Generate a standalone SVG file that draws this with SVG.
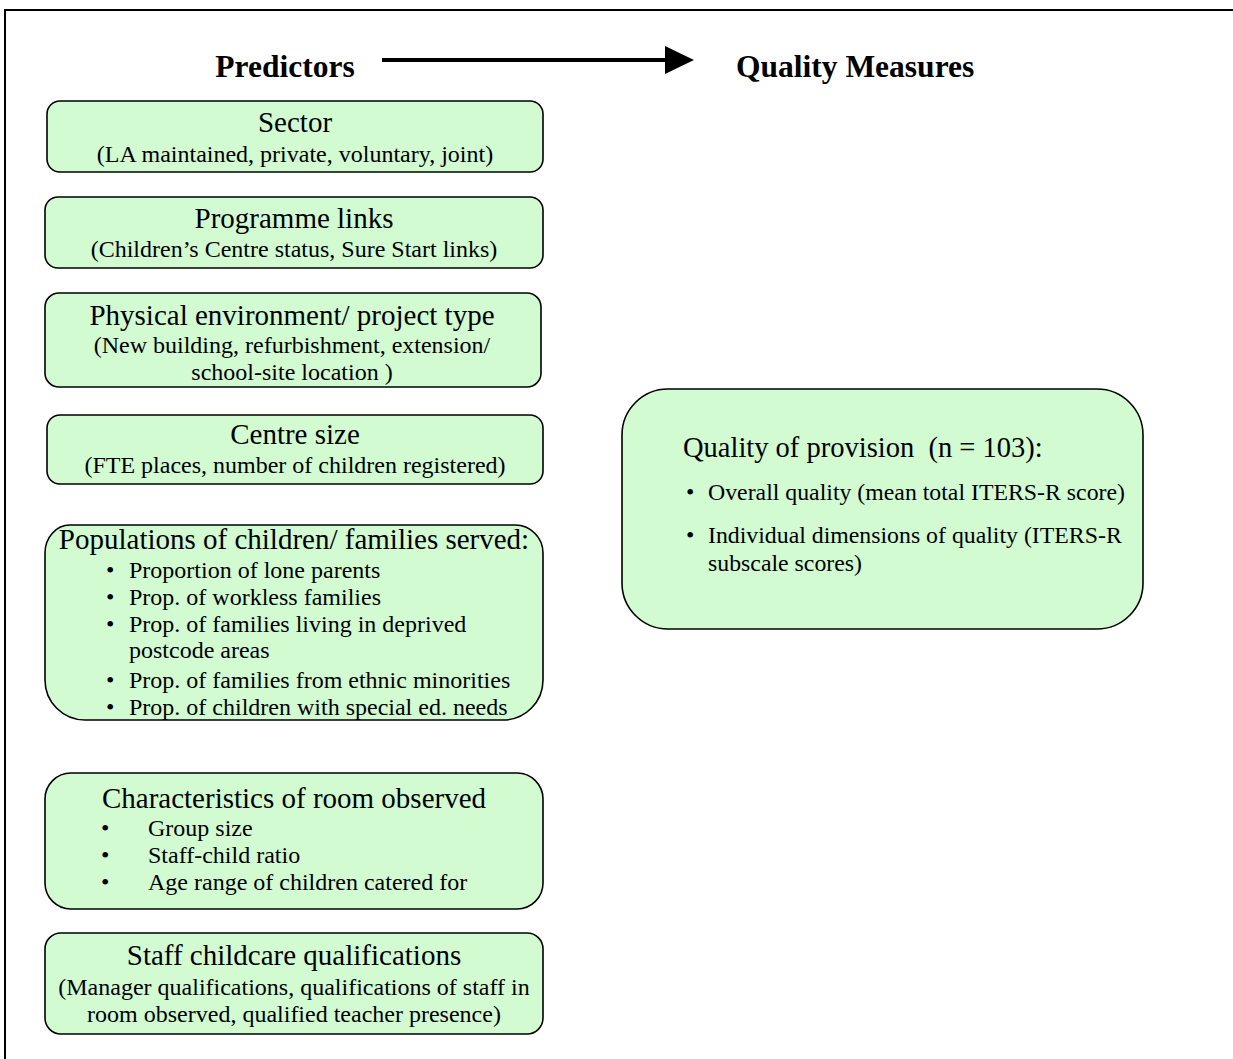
<svg xmlns="http://www.w3.org/2000/svg" width="1233" height="1059" viewBox="0 0 1233 1059">
<style>
.box{fill:#d2fbd2;stroke:#000;stroke-width:1.6}
text{font-family:"Liberation Serif","Times New Roman",serif;fill:#000}
.h{font-size:31.5px;font-weight:bold}
.t{font-size:29px;text-anchor:middle}
.s{font-size:24px;text-anchor:middle}
.b{font-size:24px}
.q{font-size:28.5px}
.qb{font-size:23.8px}
</style>
<rect width="1233" height="1059" fill="#fff"/>
<path d="M5,1059 V10 H1233" fill="none" stroke="#000" stroke-width="2"/>
<g id="headers">
<text class="h" x="285" y="77" text-anchor="middle">Predictors</text>
<text class="h" x="736" y="77">Quality Measures</text>
</g>
<g id="connectors">
<line x1="382" y1="60" x2="667" y2="60" stroke="#000" stroke-width="4"/>
<polygon points="665,46 694,60 665,74" fill="#000"/>
</g>
<g id="sector">
<rect class="box" x="47" y="101" width="496" height="71" rx="13"/>
<text class="t" x="295" y="132">Sector</text>
<text class="s" x="295" y="162">(LA maintained, private, voluntary, joint)</text>
</g>
<g id="programme">
<rect class="box" x="45" y="197" width="498" height="71" rx="13"/>
<text class="t" x="294" y="228">Programme links</text>
<text class="s" x="294" y="257">(Children’s Centre status, Sure Start links)</text>
</g>
<g id="physical">
<rect class="box" x="45" y="293" width="496" height="94" rx="14"/>
<text class="t" x="292" y="325">Physical environment/ project type</text>
<text class="s" x="292" y="353">(New building, refurbishment, extension/</text>
<text class="s" x="292" y="380">school-site location )</text>
</g>
<g id="centre">
<rect class="box" x="47" y="415" width="496" height="69" rx="13"/>
<text class="t" x="295" y="444">Centre size</text>
<text class="s" x="295" y="473">(FTE places, number of children registered)</text>
</g>
<g id="populations">
<path class="box" d="M70,525 H515 A28,28 0 0 1 543,553 V680 A40,40 0 0 1 503,720 H85 A40,40 0 0 1 45,680 V553 A25,28 0 0 1 70,525 Z"/>
<text class="t" x="294" y="549">Populations of children/ families served:</text>
<g class="b">
<text x="106" y="578">•</text><text x="129" y="578">Proportion of lone parents</text>
<text x="106" y="605">•</text><text x="129" y="605">Prop. of workless families</text>
<text x="106" y="632">•</text><text x="129" y="632">Prop. of families living in deprived</text>
<text x="129" y="658">postcode areas</text>
<text x="106" y="688">•</text><text x="129" y="688">Prop. of families from ethnic minorities</text>
<text x="106" y="715">•</text><text x="129" y="715">Prop. of children with special ed. needs</text>
</g>
</g>
<g id="characteristics">
<rect class="box" x="45" y="773" width="498" height="136" rx="26"/>
<text class="t" x="294" y="808">Characteristics of room observed</text>
<g class="b">
<text x="101" y="836">•</text><text x="148" y="836">Group size</text>
<text x="101" y="863">•</text><text x="148" y="863">Staff-child ratio</text>
<text x="101" y="890">•</text><text x="148" y="890">Age range of children catered for</text>
</g>
</g>
<g id="staff">
<rect class="box" x="45" y="933" width="498" height="101" rx="16"/>
<text class="t" x="294" y="965">Staff childcare qualifications</text>
<text class="s" x="294" y="995">(Manager qualifications, qualifications of staff in</text>
<text class="s" x="294" y="1022">room observed, qualified teacher presence)</text>
</g>
<g id="quality">
<rect class="box" x="622" y="389" width="521" height="240" rx="46"/>
<text class="q" x="683" y="457">Quality of provision&#160; (n = 103):</text>
<g class="qb">
<text x="686" y="500">•</text><text x="708" y="500">Overall quality (mean total ITERS-R score)</text>
<text x="686" y="543">•</text><text x="708" y="543">Individual dimensions of quality (ITERS-R</text>
<text x="708" y="571">subscale scores)</text>
</g>
</g>
</svg>
